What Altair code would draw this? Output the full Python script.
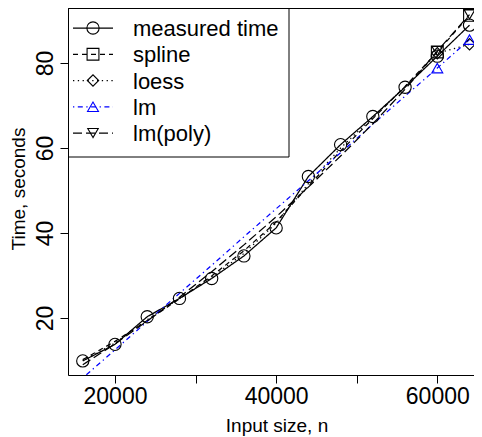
import altair as alt
import pandas as pd

# ---- data ----
n_values = [16000, 20000, 24000, 28000, 32000, 36000, 40000, 44000, 48000, 52000, 56000, 60000, 64000]
measured = [9.9, 13.8, 20.3, 24.6, 29.3, 34.6, 41.2, 53.3, 60.8, 67.4, 74.3, 81.6, 88.9]
spline = [10.2, 14.5, 19.4, 24.5, 29.9, 35.8, 42.6, 51.0, 59.3, 66.9, 74.5, 82.6, 91.2]
loess = [10.0, 14.1, 19.6, 24.6, 29.6, 35.2, 42.3, 51.6, 60.0, 67.2, 74.4, 82.3, 84.4]
lm = [5.9, 12.5, 19.2, 25.8, 32.4, 39.1, 45.7, 52.3, 58.9, 65.6, 72.2, 78.8, 85.5]
lm_poly = [9.0, 13.9, 19.3, 24.9, 30.9, 37.2, 43.8, 50.8, 58.1, 65.7, 73.8, 82.8, 91.4]
pred_from = 60000

series_names = ["measured time", "spline", "loess", "lm", "lm(poly)"]
series_values = [measured, spline, loess, lm, lm_poly]
series_colors = ["#000000", "#000000", "#000000", "#0000ff", "#000000"]
series_dash = [[1, 0], [5, 4], [1.3, 3.5], [1.3, 3.5, 5, 3.5], [9, 4]]
series_shapes = ["circle", "square", "diamond", "triangle-up", "triangle-down"]
series_sizes = [150, 110, 190, 240, 220]

x_ticks = [20000, 30000, 40000, 50000, 60000]
y_ticks = [20, 40, 60, 80]

rows = []
for name, vals in zip(series_names, series_values):
    for n, v in zip(n_values, vals):
        rows.append({"n": n, "value": v, "series": name,
                     "marked": (name == "measured time") or (n >= pred_from)})
df = pd.DataFrame(rows)
legend_df = pd.DataFrame({"series": series_names, "row": list(range(len(series_names)))})

FONT = "Liberation Sans"
W, H = 406, 367

x_enc = alt.X("n:Q",
              scale=alt.Scale(domain=[14167, 64555], nice=False, zero=False),
              axis=alt.Axis(values=x_ticks, format="d",
                            labelExpr="datum.value % 20000 == 0 ? datum.label : ''",
                            labelFontSize=23, labelFont=FONT, labelColor="black",
                            labelPadding=2, labelFlush=False, labelOverlap=False,
                            tickSize=8, tickColor="black", domainColor="black",
                            grid=False, title="Input size, n", titleFont=FONT,
                            titleFontSize=19, titleFontWeight="normal", titleColor="black",
                            titleX=208.5, titleY=56, titleAlign="center",
                            titleBaseline="alphabetic"))
y_enc = alt.Y("value:Q",
              scale=alt.Scale(domain=[6.588, 92.94], nice=False, zero=False),
              axis=alt.Axis(values=y_ticks, labelAngle=270, labelAlign="center",
                            labelBaseline="alphabetic", labelPadding=8,
                            labelFontSize=23, labelFont=FONT, labelColor="black",
                            labelFlush=False, labelOverlap=False,
                            tickSize=8, tickColor="black", domainColor="black",
                            grid=False, title="Time, seconds", titleFont=FONT,
                            titleFontSize=19, titleFontWeight="normal", titleColor="black",
                            titleAngle=270, titleX=-44, titleY=180.5,
                            titleAlign="center", titleBaseline="alphabetic"))

color_enc = alt.Color("series:N", scale=alt.Scale(domain=series_names, range=series_colors), legend=None)
dash_enc = alt.StrokeDash("series:N", scale=alt.Scale(domain=series_names, range=series_dash), legend=None)
shape_enc = alt.Shape("series:N", scale=alt.Scale(domain=series_names, range=series_shapes), legend=None)
size_enc = alt.Size("series:N", scale=alt.Scale(domain=series_names, range=series_sizes), legend=None)

base = alt.Chart(df)
lines = base.mark_line(strokeWidth=1.25, clip=True).encode(x=x_enc, y=y_enc, color=color_enc, strokeDash=dash_enc)
points = base.transform_filter("datum.marked").mark_point(filled=False, strokeWidth=1.1, opacity=1).encode(
    x=x_enc, y=y_enc, color=color_enc, shape=shape_enc, size=size_enc)

top_line = alt.Chart(pd.DataFrame({"k": [0]})).mark_rule(color="black", strokeWidth=1).encode(
    x=alt.value(0), x2=alt.value(W), y=alt.value(0.5))

leg = alt.Chart(legend_df).transform_calculate(ly="20 + datum.row * 26.25", ty="28 + datum.row * 26.25")
leg_box = alt.Chart(pd.DataFrame({"k": [0]})).mark_rect(fill="white", stroke="black", strokeWidth=1).encode(
    x=alt.value(0.5), x2=alt.value(221), y=alt.value(0.5), y2=alt.value(149))
leg_lines = leg.mark_rule(strokeWidth=1.25).encode(
    x=alt.value(5), x2=alt.value(45), y=alt.Y("ly:Q", scale=None), color=color_enc, strokeDash=dash_enc)
leg_pts = leg.mark_point(filled=False, strokeWidth=1.1, opacity=1).encode(
    x=alt.value(25), y=alt.Y("ly:Q", scale=None), color=color_enc, shape=shape_enc, size=size_enc)
leg_text = leg.mark_text(align="left", baseline="alphabetic", fontSize=22, font=FONT, color="black").encode(
    x=alt.value(65), y=alt.Y("ty:Q", scale=None), text="series:N")

chart = alt.layer(lines, points, top_line, leg_box, leg_lines, leg_pts, leg_text).properties(
    width=W, height=H,
    padding={"left": 60, "top": 0, "right": 0, "bottom": 62},
    autosize=alt.AutoSizeParams(type="none"),
).configure_view(stroke=None).configure(font=FONT)

chart.save("out.html", embed_options={"renderer": "svg", "actions": False})
